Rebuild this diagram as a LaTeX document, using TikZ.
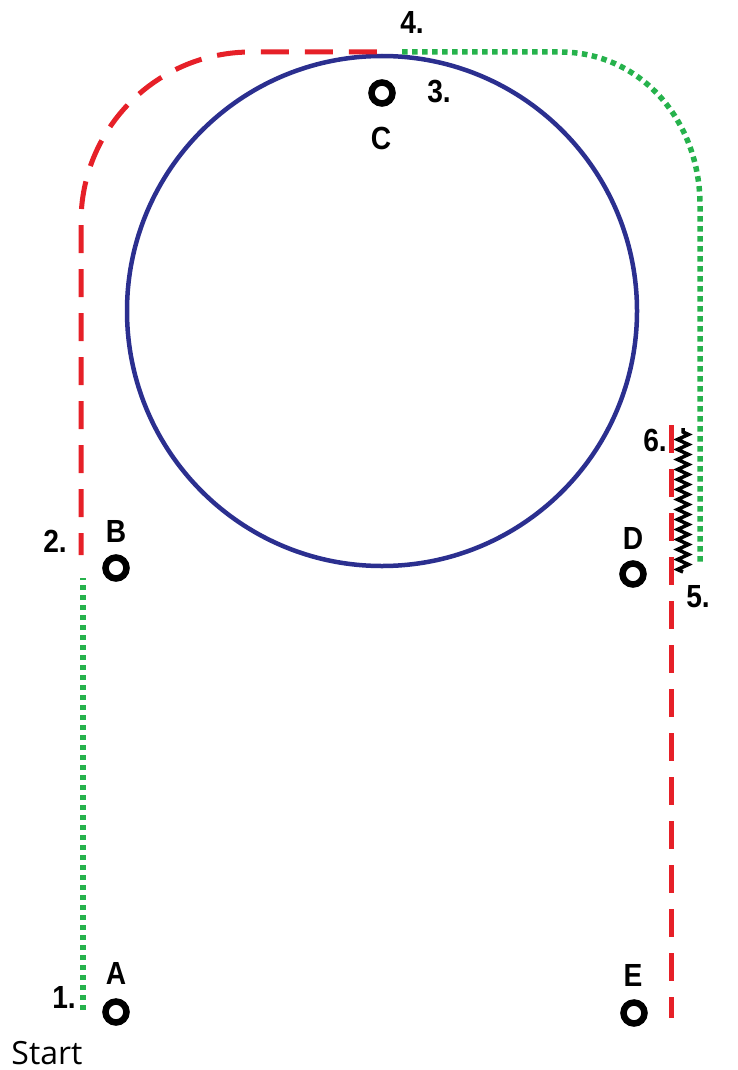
\documentclass[tikz,border=0pt]{standalone}
\usepackage{fontspec}
\setmainfont{Liberation Sans}
\newfontfamily\startfont{Open Sans}
\usetikzlibrary{decorations.pathmorphing}

\definecolor{ringblue}{RGB}{43,47,143}
\definecolor{pathred}{RGB}{230,32,40}
\definecolor{pathgreen}{RGB}{38,178,76}

\tikzset{
  cone/.style={circle, draw=black, line width=6.5pt, minimum size=21pt, inner sep=0pt},
  conelabel/.style={font=\fontsize{32}{36}\selectfont\bfseries, xscale=0.88, inner sep=0pt},
  steplabel/.style={font=\fontsize{32}{36}\selectfont\bfseries, xscale=0.88, inner sep=0pt},
  redline/.style={draw=pathred, line width=5pt, dash pattern=on 28pt off 16pt},
  greenline/.style={draw=pathgreen, line width=5.5pt, dash pattern=on 5.5pt off 4.5pt}
}

\begin{document}
\begin{tikzpicture}[x=1pt, y=-1pt]
  \useasboundingbox (0,0) rectangle (737,1070);
  % big circle
  \draw[ringblue, line width=4.5pt] (382,311) circle[radius=255];
  % cones
  \node[cone] (A) at (116,1012) {};
  \node[cone] (B) at (116,568) {};
  \node[cone] (C) at (382,93) {};
  \node[cone] (D) at (633,574) {};
  \node[cone] (E) at (634,1013) {};
  \node[conelabel] at (116,973) {A};
  \node[conelabel] at (116,531) {B};
  \node[conelabel] at (381,138) {C};
  \node[conelabel] at (633,538) {D};
  \node[conelabel] at (633,975) {E};
  % step numbers
  \node[steplabel] (s1) at (64,997) {1.};
  \node[steplabel] (s2) at (55,541) {2.};
  \node[steplabel] (s3) at (439,92) {3.};
  \node[steplabel] (s4) at (412,22) {4.};
  \node[steplabel] (s5) at (698,597) {5.};
  \node[steplabel] (s6) at (655,440) {6.};
  \node[font=\startfont\fontsize{32}{36}\selectfont, inner sep=0pt] (start) at (47,1053) {Start};
  % route points
  \coordinate (p1) at (83,1010);
  \coordinate (p1b) at (83,578);
  \coordinate (p2) at (81,555);
  \coordinate (p4) at (388,52);
  \coordinate (p4b) at (402,52);
  \coordinate (p5) at (700,566);
  \coordinate (p6) at (671,425);
  \coordinate (pend) at (671,1018);
  % 1 -> 2
  \path[greenline] (p1) -- (p1b);
  % 2 -> 4
  \path[redline, dash phase=6pt] (p2) -- (81,222)
    .. controls (81,128) and (157,52) .. (251,52) -- (p4);
  % 4 -> 5
  \path[greenline] (p4b) -- (560,52)
    .. controls (640,52) and (700,120) .. (700,205) -- (p5);
  % 5 -> 6
  \draw[line width=3.5pt, decorate,
    decoration={zigzag, segment length=10pt, amplitude=5.5pt}] (683,572) -- (683,428);
  % 6 -> end
  \path[redline] (p6) -- (pend);
\end{tikzpicture}
\end{document}
